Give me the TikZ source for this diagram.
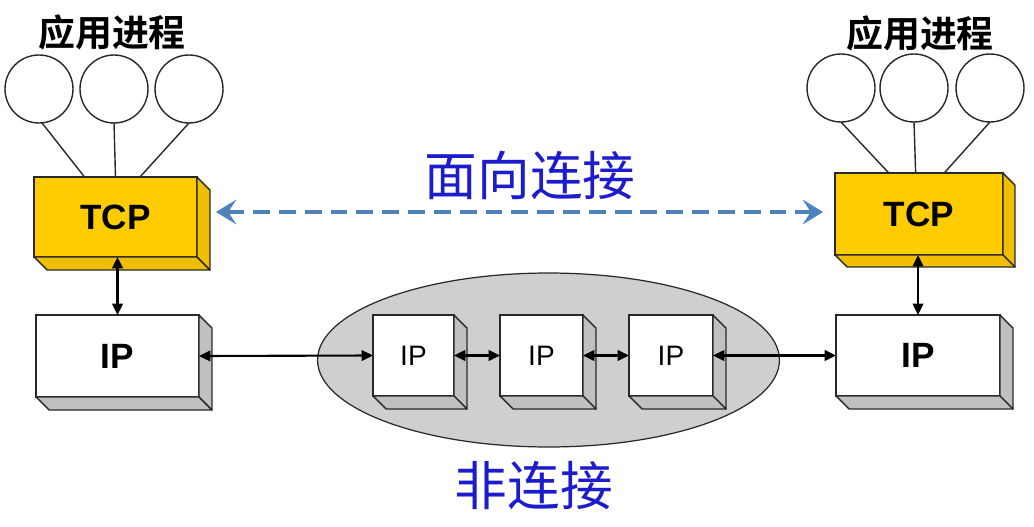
\documentclass[tikz,border=0pt]{standalone}
\usepackage{fontspec}
\setmainfont{Liberation Sans}
\newfontfamily\cjk{Noto Sans CJK SC}
\newfontfamily\cjkb{Noto Sans CJK SC Bold}
\usetikzlibrary{arrows.meta,calc,shapes.geometric}
\definecolor{tcpface}{RGB}{255,204,0}
\definecolor{tcpside}{RGB}{240,190,0}
\definecolor{ipside}{RGB}{192,192,192}
\definecolor{netfill}{RGB}{207,207,207}
\definecolor{edgec}{RGB}{40,40,40}
\definecolor{dashblue}{RGB}{79,129,189}
\definecolor{txtblue}{RGB}{28,28,205}
\newcommand\sidefaces[3]{%
  \filldraw[fill=#3, draw=edgec, line width=0.8pt, line join=round]
    (#1.north east) -- ++(#2,#2) -- ($(#1.south east)+(#2,#2)$) -- (#1.south east) -- cycle;
  \filldraw[fill=#3, draw=edgec, line width=0.8pt, line join=round]
    (#1.south west) -- ++(#2,#2) -- ($(#1.south east)+(#2,#2)$) -- (#1.south east) -- cycle;}
\tikzset{
  tcpbox/.style={draw=edgec, fill=tcpface, line width=0.8pt, outer sep=0pt, inner sep=0pt,
    font=\fontsize{20}{22}\selectfont\bfseries},
  ipbox/.style={draw=edgec, fill=white, line width=0.8pt, outer sep=0pt, inner sep=0pt,
    font=\fontsize{20}{22}\selectfont\bfseries},
  ipsmall/.style={draw=edgec, fill=white, line width=0.8pt, outer sep=0pt, inner sep=0pt,
    font=\fontsize{16}{18}\selectfont},
  proc/.style={circle, draw=edgec, fill=white, line width=0.8pt, minimum size=1.36cm, inner sep=0pt, outer sep=0pt},
  procline/.style={draw=edgec, line width=0.8pt},
  link/.style={draw=black, line width=1.2pt, {Triangle[length=6.5pt,width=6pt]}-{Triangle[length=6.5pt,width=6pt]}},
  applabel/.style={font=\cjkb\fontsize{21}{23}\selectfont},
  bluelabel/.style={text=txtblue, font=\cjk\fontsize{30}{32}\selectfont},
}
\begin{document}
\begin{tikzpicture}[x=0.02cm, y=-0.02cm]
\useasboundingbox (0,0) rectangle (1034,527);
% network ellipse
\node[ellipse, draw=edgec, fill=netfill, line width=0.7pt, minimum width=9.24cm, minimum height=3.48cm, inner sep=0pt] (net) at (548.5,360) {};
% left host
\node[applabel] (appL) at (112,32) {应用进程};
\node[proc] (cL1) at (39,89) {};
\node[proc] (cL2) at (114,89) {};
\node[proc] (cL3) at (189,89) {};
\node[tcpbox, minimum width=3.26cm, minimum height=1.6cm] (tcpL) at (115.5,217) {TCP};
\sidefaces{tcpL}{13}{tcpside}
\node[ipbox, minimum width=3.26cm, minimum height=1.64cm] (ipL) at (117.5,356) {IP};
\sidefaces{ipL}{13}{ipside}
% right host
\node[applabel] (appR) at (920,33) {应用进程};
\node[proc] (cR1) at (841,88) {};
\node[proc] (cR2) at (914,88) {};
\node[proc] (cR3) at (990,88) {};
\node[tcpbox, minimum width=3.36cm, minimum height=1.64cm] (tcpR) at (919,214) {TCP};
\sidefaces{tcpR}{12}{tcpside}
\node[ipbox, minimum width=3.28cm, minimum height=1.62cm] (ipR) at (918,355.5) {IP};
\sidefaces{ipR}{13}{ipside}
% routers
\node[ipsmall, minimum width=1.62cm, minimum height=1.62cm] (ip1) at (413.5,355.5) {IP};
\sidefaces{ip1}{13}{ipside}
\node[ipsmall, minimum width=1.66cm, minimum height=1.62cm] (ip2) at (541.5,355.5) {IP};
\sidefaces{ip2}{13}{ipside}
\node[ipsmall, minimum width=1.68cm, minimum height=1.62cm] (ip3) at (671,355.5) {IP};
\sidefaces{ip3}{13}{ipside}
% process lines
\draw[procline] (cL1.-85) -- ($(tcpL.north west)!0.31!(tcpL.north east)$);
\draw[procline] (cL2.south) -- ($(tcpL.north west)!0.5!(tcpL.north east)$);
\draw[procline] (cL3.south) -- ($(tcpL.north west)!0.65!(tcpL.north east)$);
\draw[procline] (cR1.south) -- ($(tcpR.north west)!0.32!(tcpR.north east)$);
\draw[procline] (cR2.south) -- ($(tcpR.north west)!0.48!(tcpR.north east)$);
\draw[procline] (cR3.south) -- ($(tcpR.north west)!0.65!(tcpR.north east)$);
% links
\draw[link] (ipL.north |- tcpL.south) -- (ipL.north);
\draw[link] (ipR.north |- tcpR.south) -- (ipR.north);
\draw[link] (ipL.east) -- (ip1.west);
\draw[link] (ip1.east) -- (ip2.west);
\draw[link] (ip2.east) -- (ip3.west);
\draw[link] (ip3.east) -- (ipR.west);
% connection oriented
\coordinate (dL) at (216,212);
\coordinate (dR) at (823,212);
\draw[dashblue, line width=2.8pt, dash pattern=on 9.6pt off 5.1pt,
  {Stealth[length=11.5pt,width=14pt,inset=4.5pt]}-{Stealth[length=11.5pt,width=14pt,inset=4.5pt]}] (dL) -- (dR);
\node[bluelabel] (co) at (530,175) {面向连接};
\node[bluelabel] (cl) at (534,486) {非连接};
\end{tikzpicture}
\end{document}
